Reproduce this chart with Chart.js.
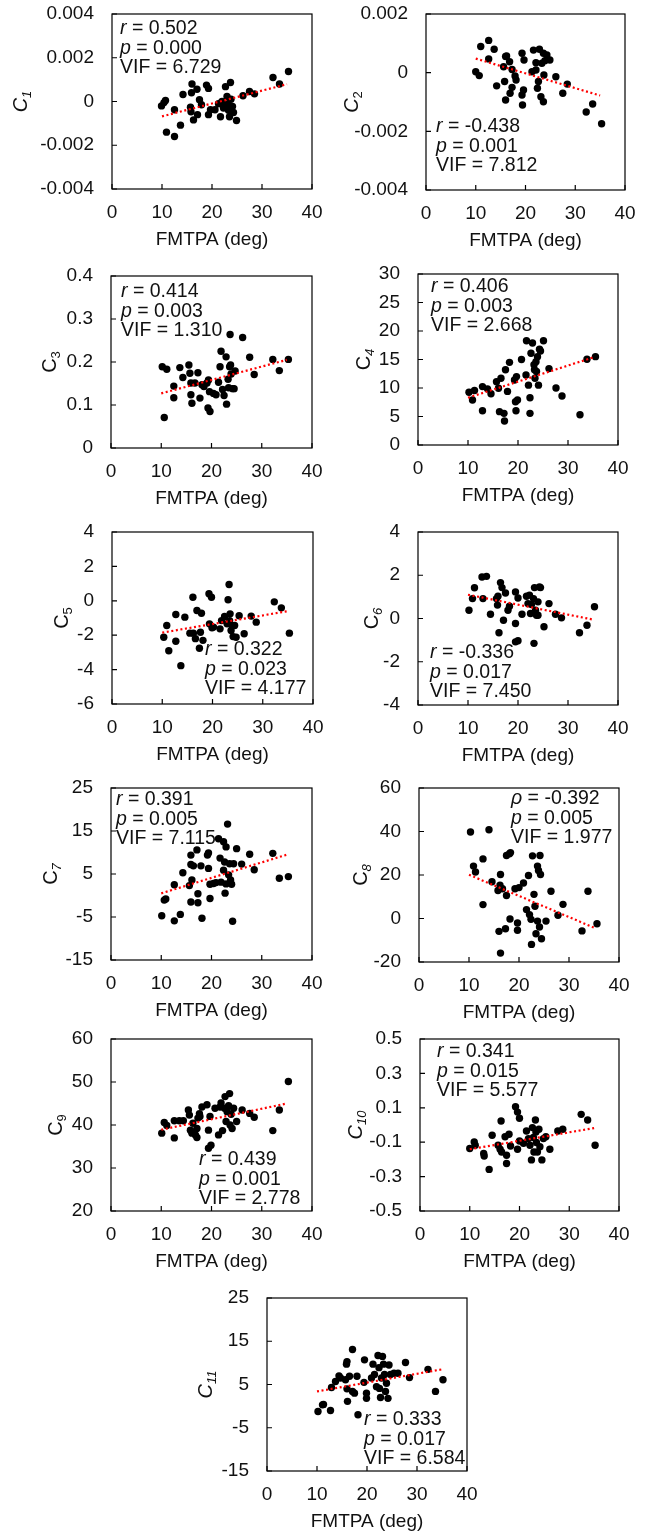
<!DOCTYPE html>
<html>
<head>
<meta charset="utf-8">
<script src="https://cdn.jsdelivr.net/npm/chart.js@4"></script>
<style>
  body { margin: 0; background: #fff; width: 651px; height: 1533px; position: relative; overflow: hidden; }
  canvas { position: absolute; }
</style>
</head>
<body>
<script>
const FONT = '"Liberation Sans", Arial, sans-serif';
const xTicks = [0, 10, 20, 30, 40];
const trendX = [10, 35];

// C1
const x1 = [9.9, 10.4, 10.7, 10.9, 12.5, 12.5, 13.7, 14.2, 15.7, 15.8, 16, 15.9, 16.3, 17, 17.1, 17.5, 17.9, 18.9, 19.3, 19.3, 19.7, 20.6, 21.3, 21.7, 22.7, 23.7, 23, 23.2, 23.3, 23.5, 23.8, 24.1, 24.3, 24.9, 26.2, 27.5, 28.5, 32.2, 33.5, 35.3, 22.3, 22.9, 22.0];
const c1 = [-0.0002, -0.00005, 0.00005, -0.0014, -0.0016, -0.00038, -0.00108, 0.00032, -0.00026, -0.00047, 0.0008, 0.0004, -0.00084, 0.00056, -0.0006, 0.00008, -0.00015, 0.00075, 0.0006, -0.0006, -0.00038, -0.00038, -0.0001, -0.0007, 0.00068, 0.00087, 0.00023, -0.0001, -0.0004, -0.0007, 0.0001, -0.00023, -0.0005, -0.00087, 0.00026, 0.00046, 0.00035, 0.0011, 0.0008, 0.00137, -0.0003, -0.0002, 0.0];
const trend1 = [-0.00068, 0.00079];
const yTicks1 = [-0.004, -0.002, 0, 0.002, 0.004];

// C2
const x2 = [10.0, 10.7, 11.0, 12.6, 12.6, 13.7, 14.2, 15.6, 15.8, 16, 16.2, 16, 16.8, 17.3, 17.3, 16.9, 17.9, 18.1, 19.3, 19.7, 19.6, 19.3, 19.4, 21.3, 21.6, 22.1, 22.1, 22.4, 22.6, 22.8, 23.1, 23.3, 23.6, 23.7, 23.9, 23.6, 24.3, 24.9, 26.1, 27.5, 28.4, 32.2, 33.5, 35.3];
const c2 = [0.00003, -0.0001, 0.00089, 0.0011, 0.00047, 0.0008, -0.00045, 0.0002, -0.0003, 0.00055, 0.00057, -0.00093, 0.00037, 0.00011, -0.0005, -0.0007, -0.00011, -0.00025, 0.00066, 0.00043, -0.00059, -0.00076, -0.0011, 0.00003, 0.00077, 0.00009, 0.00034, -0.00053, -0.0003, 0.0008, -0.00082, 0.00032, 0.00066, -0.00008, 0.00041, -0.00099, 0.0006, 0.00043, -0.00014, -0.0007, -0.00039, -0.00134, -0.00107, -0.00174];
const trend2 = [0.00048, -0.00078];
const yTicks2 = [-0.004, -0.002, 0, 0.002];

// C3
const x3 = [10.2, 11.1, 10.6, 12.5, 12.5, 13.7, 14.3, 15.5, 15.7, 15.9, 15.9, 16.1, 16.7, 17.3, 17.7, 18.1, 18.5, 19.1, 19.4, 19.3, 19.7, 19.6, 20.4, 20.9, 21.4, 21.9, 21.7, 22.2, 22.5, 22.9, 23, 23.3, 23.4, 23.6, 23.7, 23.8, 23.9, 24.2, 24.5, 24.7, 26.2, 27.6, 28.5, 32.2, 33.5, 35.3];
const c3 = [0.189, 0.183, 0.071, 0.144, 0.117, 0.187, 0.164, 0.193, 0.174, 0.151, 0.124, 0.104, 0.151, 0.175, 0.116, 0.147, 0.143, 0.151, 0.158, 0.093, 0.085, 0.131, 0.127, 0.124, 0.153, 0.225, 0.189, 0.136, 0.122, 0.212, 0.102, 0.160, 0.14, 0.189, 0.264, 0.193, 0.172, 0.138, 0.138, 0.179, 0.257, 0.211, 0.171, 0.206, 0.180, 0.206];
const trend3 = [0.127, 0.205];
const yTicks3 = [0, 0.1, 0.2, 0.3, 0.4];

// C4
const x4 = [10.2, 10.9, 11.3, 12.9, 12.9, 13.9, 14.6, 15.7, 16.1, 16.3, 16.6, 17.2, 17.3, 17.5, 17.9, 18.3, 19.3, 19.7, 19.5, 19.9, 19.6, 20.7, 21.6, 21.7, 22.1, 22.4, 22.4, 22.6, 22.9, 23.2, 23.3, 23.4, 23.6, 23.7, 23.9, 24.1, 24.3, 24.5, 25.1, 26.2, 27.6, 28.8, 32.4, 33.8, 35.5];
const c4 = [9.26, 7.9, 9.55, 10.25, 6.0, 9.85, 9.0, 11.1, 9.95, 5.85, 11.7, 5.55, 4.2, 13.2, 9.4, 14.5, 11.4, 12.0, 7.6, 7.9, 6.0, 15.0, 12.3, 18.3, 10.5, 8.3, 5.55, 16.1, 17.9, 14.1, 13.2, 11.7, 14.6, 12.9, 15.5, 10.5, 16.8, 16.5, 18.3, 13.4, 10.0, 8.6, 5.3, 15.05, 15.5];
const trend4 = [8.3, 15.35];
const yTicks4 = [0, 5, 10, 15, 20, 25, 30];

// C5
const x5 = [10.3, 10.9, 11.3, 12.7, 12.7, 13.7, 14.5, 15.5, 16.1, 16.2, 16.6, 16.9, 17.4, 17.6, 17.8, 18.1, 19.3, 19.4, 19.8, 19.9, 20.2, 21.5, 21.8, 22.4, 22.9, 23.1, 23.3, 23.4, 23.5, 23.7, 23.9, 24.1, 24.4, 24.7, 25.3, 26.3, 27.7, 28.7, 32.3, 33.7, 35.3];
const c5 = [-2.12, -1.44, -2.9, -0.8, -2.35, -3.77, -0.95, -1.88, 0.21, -1.88, -2.2, -0.56, -2.76, -1.83, -0.72, -2.3, 0.41, -1.34, 0.21, -1.57, -1.53, -1.63, -1.15, -0.91, -1.34, 0.06, 0.95, -1.15, -0.76, -1.73, -1.44, -2.08, -1.44, -2.12, -0.87, -1.92, -0.89, -1.24, -0.06, -0.41, -1.88];
const trend5 = [-1.85, -0.6];
const yTicks5 = [-6, -4, -2, 0, 2, 4];

// C6
const x6 = [10.2, 10.9, 11.3, 12.8, 13, 13.7, 14.5, 15.7, 16, 15.9, 16.2, 16.5, 16.8, 17.1, 17.5, 18, 18.3, 19.5, 19.5, 19.5, 20, 20, 20.8, 21.7, 22, 22.3, 22.5, 22.7, 23.2, 23.1, 23.3, 23.5, 23.7, 24, 24.3, 24.5, 24, 25.2, 26.2, 27.5, 28.7, 32.3, 33.8, 35.3];
const c6 = [0.38, 0.92, 1.42, 1.92, 0.92, 1.95, 0.2, 0.92, 1.03, 0.62, -0.66, 1.66, 1.43, -0.08, 1.18, 0.38, 0.57, 1.23, -0.23, -1.08, -1.03, 0.95, 0.2, 1.03, 0.69, 1.08, 0.23, 0.65, -1.15, 0.92, 1.43, 0.38, 0.15, 0.77, 1.46, 1.43, 0.15, -0.38, 0.69, 0.2, 0.03, -0.66, -0.31, 0.54];
const trend6 = [1.1, -0.05];
const yTicks6 = [-4, -2, 0, 2, 4];

// C7
const x7 = [10.1, 10.6, 10.9, 12.6, 12.6, 13.8, 14.3, 15.6, 15.9, 15.9, 16.1, 15.9, 16.4, 17.1, 17.3, 17.3, 17.9, 18.1, 19.2, 19.4, 19.4, 19.7, 19.7, 20.4, 20.9, 21.4, 21.7, 21.9, 22.4, 22.4, 22.6, 22.7, 22.9, 22.9, 23.2, 23.4, 23.6, 23.8, 24, 24.2, 24.4, 25, 26, 27.6, 28.5, 32.2, 33.5, 35.3];
const c7 = [-4.7, -1.07, -0.8, 2.5, -5.9, -4.4, 5.3, 2.3, 7.2, 9.4, 3.6, -1.5, 6.9, 10.6, 0.4, -1.7, 6.9, -5.3, 9.4, 9.9, 6.3, -0.7, 2.6, 2.8, 3.0, 13.2, 8.7, 3.1, 12.5, 5.9, 7.8, 0.55, 11.3, 2.7, 16.6, 4.8, 7.4, 3.6, 2.6, -6.0, 7.4, 10.9, 7.3, 9.6, 6.0, 9.8, 4.0, 4.4];
const trend7 = [0.5, 9.5];
const yTicks7 = [-15, -5, 5, 15, 25];

// C8
const x8 = [10.3, 10.9, 11.3, 12.8, 12.8, 14.0, 14.6, 15.8, 16.2, 16.3, 16.0, 16.3, 16.7, 17.3, 17.5, 17.5, 18.1, 18.3, 18.2, 19.2, 19.7, 19.7, 20, 20.9, 21.5, 21.9, 22.1, 22.4, 22.5, 22.7, 23, 23.2, 23.4, 23.7, 23.7, 23.9, 24.1, 24.2, 24.3, 24.5, 25.4, 26.4, 28.8, 27.8, 32.6, 33.8, 35.6];
const c8 = [39.8, 24.1, 21.4, 27.4, 6.4, 40.8, 16.9, 12.9, 15.3, 20.2, -5.9, -15.9, 13.7, -4.7, 10.6, 29.0, 29.8, 30.3, -0.2, 13.7, -2.1, -5.4, 14.2, 16.3, 4.1, 19.8, 1.8, -0.4, -11.9, 28.8, 11.1, 5.6, -7, -1.2, 24.1, 22.1, -3.9, 29.0, 20.2, -9.3, -1.2, 12.5, 6.5, 1.5, -5.7, 12.5, -2.4];
const trend8 = [20.1, -4.2];
const yTicks8 = [-20, 0, 20, 40, 60];

// C9
const x9 = [10.1, 10.6, 11.1, 12.6, 12.6, 13.6, 14.4, 15.4, 15.6, 15.8, 16.1, 16.3, 16.8, 17.1, 17.1, 17.3, 17.6, 17.7, 18.1, 19.1, 19.4, 19.4, 19.9, 19.7, 20.7, 21.4, 21.7, 21.9, 22.2, 22.6, 22.7, 22.9, 23.1, 23.4, 23.6, 23.7, 23.9, 24.1, 24.4, 25, 26.1, 27.6, 28.5, 32.2, 33.5, 35.3];
const c9 = [38.1, 40.6, 39.9, 37.0, 41.0, 41.0, 41.0, 43.5, 42.3, 38.8, 38.1, 40.4, 37.7, 37.1, 39.2, 41.6, 42.6, 42.0, 44.2, 44.7, 38.8, 34.6, 35.3, 42.0, 43.9, 37.7, 44.2, 45.1, 38.7, 43.9, 46.6, 40.8, 43.1, 44.5, 47.3, 40.0, 42.5, 39.2, 43.9, 40.8, 43.5, 42.7, 41.8, 38.7, 43.5, 50.1];
const trend9 = [38.9, 45.0];
const yTicks9 = [20, 30, 40, 50, 60];

// C10
const x10 = [10.0, 10.9, 11.1, 12.8, 12.9, 13.9, 14.5, 15.7, 16.1, 16.3, 16.4, 17.1, 17.4, 17.4, 17.9, 18.2, 19.2, 19.6, 20, 19.6, 20, 20.8, 21.4, 21.8, 22.1, 22.4, 22.6, 22.8, 22.9, 23.2, 23.3, 23.4, 23.6, 23.9, 24.1, 24.5, 24.8, 25.3, 26.1, 27.7, 28.7, 32.4, 33.7, 35.2];
const c10 = [-0.137, -0.099, -0.118, -0.165, -0.18, -0.258, -0.06, -0.118, -0.141, 0.023, -0.157, -0.068, -0.176, -0.224, -0.054, -0.122, 0.106, 0.075, 0.039, -0.141, -0.093, -0.106, -0.035, -0.079, -0.118, -0.203, -0.015, -0.073, -0.157, 0.029, -0.04, -0.102, -0.157, -0.025, -0.126, -0.203, -0.079, -0.068, -0.141, -0.035, -0.025, 0.062, 0.029, -0.118];
const trend10 = [-0.141, -0.018];
const yTicks10 = [-0.5, -0.3, -0.1, 0.1, 0.3, 0.5];

// C11
const x11 = [10.2, 11.1, 11.3, 12.7, 12.9, 13.7, 14.4, 14.7, 15.7, 16, 15.9, 16, 16.1, 16.5, 17.1, 17.1, 17.5, 18, 18.2, 19.4, 19.5, 19.9, 19.9, 20.9, 21.2, 21.5, 21.9, 22.2, 22.4, 22.5, 22.7, 22.9, 23.1, 23.3, 23.5, 23.7, 23.9, 24.2, 24.4, 24.7, 25.4, 26.2, 27.7, 28.5, 32.2, 33.7, 35.2];
const c11 = [-1.25, 0.3, 0.4, -1.0, 4.3, 5.7, 7.0, 6.5, 6.1, 4.0, 9.7, 10.3, 1.1, 6.9, 13.1, 3.4, 3.0, 6.9, -2.0, 5.5, 10.7, 3.0, 1.8, 6.5, 9.7, 7.3, 4.5, 11.7, 8.9, 4.1, 2.0, 6.5, 11.5, 9.7, 7.3, 3.4, 5.3, 1.8, 9.5, 7.3, 7.6, 7.6, 10.1, 6.6, 8.5, 3.4, 6.1];
const trend11 = [3.4, 8.5];
const yTicks11 = [-15, -5, 5, 15, 25];

const coefSymbol = ["r", "r", "r", "r", "r", "r", "r", "\u03C1", "r", "r", "r"];
const rVals = ["0.502", "-0.438", "0.414", "0.406", "0.322", "-0.336", "0.391", "-0.392", "0.439", "0.341", "0.333"];
const pVals = ["0.000", "0.001", "0.003", "0.003", "0.023", "0.017", "0.005", "0.005", "0.001", "0.015", "0.017"];
const vifVals = ["6.729", "7.812", "1.310", "2.668", "4.177", "7.450", "7.115", "1.977", "2.778", "5.577", "6.584"];

const xs = [x1, x2, x3, x4, x5, x6, x7, x8, x9, x10, x11];
const ys = [c1, c2, c3, c4, c5, c6, c7, c8, c9, c10, c11];
const trends = [trend1, trend2, trend3, trend4, trend5, trend6, trend7, trend8, trend9, trend10, trend11];
const yTicks = [yTicks1, yTicks2, yTicks3, yTicks4, yTicks5, yTicks6, yTicks7, yTicks8, yTicks9, yTicks10, yTicks11];

// plot rectangles on the page, y-title offset, stats text offset
const panels = [
  { l: 112, t: 14, w: 200, h: 175, to: 92, ax: 8, ay: 15, ci: true, si: true },
  { l: 426, t: 14, w: 199, h: 176, to: 75, ax: 10, ay: 113, ci: true, si: false },
  { l: 111, t: 276, w: 201, h: 172, to: 62, ax: 10, ay: 16, ci: false, si: false },
  { l: 418, t: 274, w: 200, h: 171, to: 55, ax: 13, ay: 13, ci: false, si: true },
  { l: 112, t: 532, w: 201, h: 172, to: 51, ax: 93, ay: 118, ci: false, si: false },
  { l: 418, t: 532, w: 200, h: 173, to: 47, ax: 12, ay: 121, ci: false, si: true },
  { l: 111, t: 788, w: 201, h: 172, to: 61, ax: 5, ay: 12, ci: false, si: true },
  { l: 419, t: 788, w: 200, h: 174, to: 59, ax: 92, ay: 11, ci: false, si: true },
  { l: 111, t: 1039, w: 201, h: 172, to: 56, ax: 88, ay: 121, ci: false, si: false },
  { l: 420, t: 1039, w: 199, h: 172, to: 65, ax: 17, ay: 13, ci: true, si: true },
  { l: 267, t: 1298, w: 200, h: 173, to: 62, ax: 97, ay: 122, ci: true, si: true }
];

// padding must exceed the label overflow that Chart.js reserves (half label + tick padding)
const padL = 100, padT = 32, padR = 26, axisH = 62;

function makeChart(i) {
  const P = panels[i];
  const cv = document.createElement("canvas");
  cv.width = padL + P.w + padR;
  cv.height = padT + P.h + axisH;
  cv.style.left = (P.l - padL) + "px";
  cv.style.top = (P.t - padT) + "px";
  document.body.appendChild(cv);

  const frame = {
    id: "frame" + i,
    afterDraw(chart) {
      const { ctx, chartArea: a, scales } = chart;
      ctx.save();
      ctx.strokeStyle = "#000";
      ctx.lineWidth = 1.2;
      ctx.strokeRect(a.left, a.top, a.right - a.left, a.bottom - a.top);
      // inward tick marks
      ctx.beginPath();
      scales.x.ticks.forEach(t => {
        const px = scales.x.getPixelForValue(t.value);
        ctx.moveTo(px, a.bottom);
        ctx.lineTo(px, a.bottom - 5);
      });
      scales.y.ticks.forEach(t => {
        const py = scales.y.getPixelForValue(t.value);
        ctx.moveTo(a.left, py);
        ctx.lineTo(a.left + 5, py);
      });
      ctx.stroke();

      // stats
      ctx.fillStyle = "#111";
      ctx.textBaseline = "middle";
      ctx.textAlign = "left";
      const lines = [[coefSymbol[i], " = " + rVals[i]], ["p", " = " + pVals[i]], ["", "VIF = " + vifVals[i]]];
      let ty = a.top + P.ay;
      lines.forEach(([it, rest]) => {
        let tx = a.left + P.ax;
        if (it) {
          ctx.font = "italic 19.5px " + FONT;
          ctx.fillText(it, tx, ty);
          tx += ctx.measureText(it).width;
        }
        ctx.font = "19.5px " + FONT;
        ctx.fillText(rest, tx, ty);
        ty += 19.3;
      });

      // y title C with subscript
      const sub = String(i + 1);
      ctx.translate(a.left - P.to, (a.top + a.bottom) / 2);
      ctx.rotate(-Math.PI / 2);
      ctx.textBaseline = "alphabetic";
      ctx.font = (P.ci ? "italic " : "") + "20px " + FONT;
      const wC = ctx.measureText("C").width;
      ctx.font = (P.si ? "italic " : "") + "13px " + FONT;
      const wS = ctx.measureText(sub).width;
      const x0 = -(wC + wS) / 2;
      ctx.font = (P.ci ? "italic " : "") + "20px " + FONT;
      ctx.fillText("C", x0, 7);
      ctx.font = (P.si ? "italic " : "") + "13px " + FONT;
      ctx.fillText(sub, x0 + wC, 11);
      ctx.restore();
    }
  };

  new Chart(cv, {
    type: "scatter",
    data: {
      datasets: [
        {
          type: "line",
          data: trendX.map((x, k) => ({ x: x, y: trends[i][k] })),
          borderColor: "#ff0000",
          borderWidth: 2.2,
          borderDash: [2, 2.6],
          pointRadius: 0,
          fill: false,
          order: 0
        },
        {
          data: xs[i].map((x, k) => ({ x: x, y: ys[i][k] })),
          backgroundColor: "#000",
          borderColor: "#000",
          borderWidth: 0,
          pointRadius: 3.7,
          order: 1
        }
      ]
    },
    options: {
      responsive: false,
      animation: false,
      devicePixelRatio: 1,
      layout: { padding: { left: 0, top: padT, right: padR, bottom: 0 } },
      plugins: { legend: { display: false }, tooltip: { enabled: false } },
      scales: {
        x: {
          type: "linear",
          min: 0,
          max: 40,
          afterBuildTicks: s => { s.ticks = xTicks.map(v => ({ value: v })); },
          afterFit: s => { s.height = axisH; },
          grid: { display: false, drawTicks: false },
          border: { display: false },
          ticks: { padding: 12, color: "#111", autoSkip: false, maxRotation: 0, font: { family: FONT, size: 19 }, callback: v => String(v) },
          title: { display: true, text: "FMTPA (deg)", color: "#111", font: { family: FONT, size: 19 }, padding: { top: 0, bottom: 0 } }
        },
        y: {
          type: "linear",
          min: yTicks[i][0],
          max: yTicks[i][yTicks[i].length - 1],
          afterBuildTicks: s => { s.ticks = yTicks[i].map(v => ({ value: v })); },
          afterFit: s => { s.width = padL; },
          grid: { display: false, drawTicks: false },
          border: { display: false },
          ticks: { padding: 18, color: "#111", autoSkip: false, font: { family: FONT, size: 19 }, callback: v => String(v) }
        }
      }
    },
    plugins: [frame]
  });
}

for (let i = 0; i < panels.length; i++) makeChart(i);
</script>
</body>
</html>
